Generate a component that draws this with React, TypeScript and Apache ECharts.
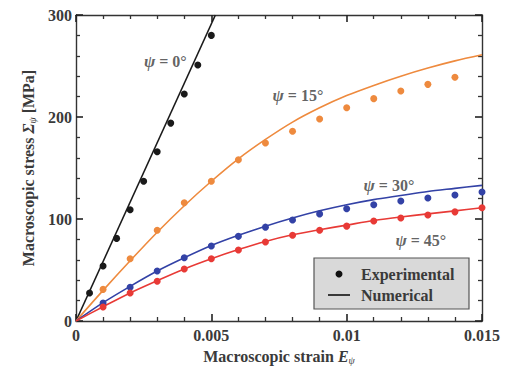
import React, { useEffect, useRef } from "react";
import * as echarts from "echarts";

// Experimental strains / stresses
const psi0Strain = [0.0005, 0.001, 0.0015, 0.002, 0.0025, 0.003, 0.0035, 0.004, 0.0045, 0.005];
const psi0Exp = [27.5, 54, 81, 109, 137, 166, 194, 222.5, 251, 280];
const psi15Strain = [0.001, 0.002, 0.003, 0.004, 0.005, 0.006, 0.007, 0.008, 0.009, 0.01, 0.011, 0.012, 0.013, 0.014];
const psi15Exp = [31, 61, 89, 116, 137, 158, 174.5, 186, 198, 209, 218, 225.5, 232, 239];
const expStrain = [0.001, 0.002, 0.003, 0.004, 0.005, 0.006, 0.007, 0.008, 0.009, 0.01, 0.011, 0.012, 0.013, 0.014, 0.015];
const psi30Exp = [17.6, 33, 49, 62, 73.5, 83, 92, 99, 105, 110, 114, 117.6, 120.6, 123.5, 126.5];
const psi45Exp = [13.7, 27.5, 39, 51, 61, 69.6, 77.5, 84, 89, 93, 98, 101, 104, 107, 111];

// Numerical curves
const psi0NumStrain = [0, 0.00515];
const psi0Num = [0, 300];
const numStrain = [0, 0.001, 0.002, 0.003, 0.004, 0.005, 0.006, 0.007, 0.008, 0.009, 0.01, 0.011, 0.012, 0.013, 0.014, 0.015];
const psi15Num = [0, 30, 59, 87, 113, 137, 159, 178, 195, 209, 221, 231, 240, 248, 255, 261];
const psi30Num = [0, 18, 34, 49, 62, 74, 84, 93, 101, 108, 114, 119, 123, 127, 130, 133];
const psi45Num = [0, 14, 27.5, 39.5, 51, 61, 70, 78, 84.5, 89.5, 94, 98.5, 102, 105, 108, 111];

// Curve labels
const labelTexts = ["0°", "15°", "30°", "45°"];
const labelStrain = [0.0033, 0.0082, 0.01156, 0.01274];
const labelStress = [254, 221.5, 133, 79];

const colors = ["#1a1a1a", "#ee8a3e", "#3342a6", "#e83a36"];
const FONT = "'Liberation Serif', 'DejaVu Serif', serif";
const TXT = "#3a3a3a";

const zip = (xs: number[], ys: number[]) => xs.map((x, i) => [x, ys[i]]);

const axisLine = () => ({ show: true, onZero: false, lineStyle: { color: "#333", width: 1.4 } });
const tick = () => ({ show: true, inside: true, length: 7, lineStyle: { color: "#222", width: 1.6 } });
const minor = () => ({ show: true, splitNumber: 5, length: 4, lineStyle: { color: "#333", width: 1.3 } });

export default function App() {
  const ref = useRef<HTMLDivElement>(null);
  useEffect(() => {
    if (!ref.current) return;
    const chart = echarts.init(ref.current, null, { renderer: "svg" });
    const lineSeries = (data: number[][], c: string) => ({
      type: "line",
      data,
      showSymbol: false,
      symbol: "none",
      smooth: 0.3,
      lineStyle: { color: c, width: 1.6 },
      z: 2,
    });
    const dotSeries = (data: number[][], c: string) => ({
      type: "scatter",
      data,
      symbol: "circle",
      symbolSize: 7,
      itemStyle: { color: c, opacity: 1 },
      z: 3,
    });
    const richName = () => ({
      n: { fontFamily: FONT, fontSize: 16, fontWeight: "bold", color: TXT },
      i: { fontFamily: FONT, fontSize: 16, fontStyle: "italic", fontWeight: "bold", color: TXT },
      s: { fontFamily: FONT, fontSize: 10, fontStyle: "italic", color: TXT, padding: [8, 0, 0, 0] },
    });
    chart.setOption({
      animation: false,
      grid: { left: 76, right: 29, top: 15, bottom: 53 },
      xAxis: [
        {
          type: "value",
          min: 0,
          max: 0.015,
          interval: 0.005,
          axisLine: axisLine(),
          axisTick: tick(),
          minorTick: minor(),
          splitLine: { show: false },
          axisLabel: {
            fontFamily: FONT,
            fontSize: 16,
            fontWeight: "bold",
            color: TXT,
            margin: 6,
            formatter: (v: number) => (v === 0 ? "0" : String(parseFloat(v.toFixed(4)))),
          },
          name: "{n|Macroscopic strain }{i|E}{s|ψ}",
          nameLocation: "middle",
          nameGap: 26,
          nameTextStyle: { fontFamily: FONT, fontSize: 16, color: TXT, rich: richName() },
        },
        {
          type: "value",
          position: "top",
          min: 0,
          max: 0.015,
          interval: 0.005,
          axisLine: axisLine(),
          axisTick: tick(),
          minorTick: minor(),
          splitLine: { show: false },
          axisLabel: { show: false },
        },
      ],
      yAxis: [
        {
          type: "value",
          min: 0,
          max: 300,
          interval: 100,
          axisLine: axisLine(),
          axisTick: tick(),
          minorTick: minor(),
          splitLine: { show: false },
          axisLabel: { fontFamily: FONT, fontSize: 16, fontWeight: "bold", color: TXT, margin: 4 },
          name: "{n|Macroscopic stress }{i|Σ}{s|ψ}{n| [MPa]}",
          nameLocation: "middle",
          nameGap: 36,
          nameTextStyle: { fontFamily: FONT, fontSize: 16, color: TXT, rich: richName() },
        },
        {
          type: "value",
          position: "right",
          min: 0,
          max: 300,
          interval: 100,
          axisLine: axisLine(),
          axisTick: tick(),
          minorTick: minor(),
          splitLine: { show: false },
          axisLabel: { show: false },
        },
      ],
      series: [
        lineSeries(zip(psi0NumStrain, psi0Num), colors[0]),
        lineSeries(zip(numStrain, psi15Num), colors[1]),
        lineSeries(zip(numStrain, psi30Num), colors[2]),
        lineSeries(zip(numStrain, psi45Num), colors[3]),
        dotSeries(zip(psi0Strain, psi0Exp), colors[0]),
        dotSeries(zip(psi15Strain, psi15Exp), colors[1]),
        dotSeries(zip(expStrain, psi30Exp), colors[2]),
        dotSeries(zip(expStrain, psi45Exp), colors[3]),
        {
          type: "scatter",
          symbolSize: 0,
          silent: true,
          z: 4,
          data: labelTexts.map((t, i) => ({
            value: [labelStrain[i], labelStress[i]],
            label: {
              show: true,
              position: "inside",
              formatter: "{i|ψ}{n| = " + t + "}",
              rich: {
                i: { fontFamily: FONT, fontSize: 17, fontStyle: "italic", fontWeight: "bold", color: TXT },
                n: { fontFamily: FONT, fontSize: 16, fontWeight: "bold", color: TXT },
              },
            },
          })),
        },
      ],
      graphic: [
        {
          type: "rect",
          shape: { x: 314, y: 258, width: 155, height: 51 },
          style: { fill: "#d9d9d9", stroke: "#555", lineWidth: 1.2 },
          z: 10,
        },
        { type: "circle", shape: { cx: 339, cy: 274, r: 3.5 }, style: { fill: "#111" }, z: 11 },
        { type: "line", shape: { x1: 328, y1: 295, x2: 350, y2: 295 }, style: { stroke: "#111", lineWidth: 1.6 }, z: 11 },
        {
          type: "text",
          x: 361,
          y: 274,
          style: { text: "Experimental", font: "bold 16px " + FONT, fill: TXT, verticalAlign: "middle" },
          z: 11,
        },
        {
          type: "text",
          x: 361,
          y: 295,
          style: { text: "Numerical", font: "bold 16px " + FONT, fill: TXT, verticalAlign: "middle" },
          z: 11,
        },
      ],
    });
    return () => chart.dispose();
  }, []);
  return <div ref={ref} style={{ width: 511, height: 374, position: "absolute", left: 0, top: 0 }} />;
}
